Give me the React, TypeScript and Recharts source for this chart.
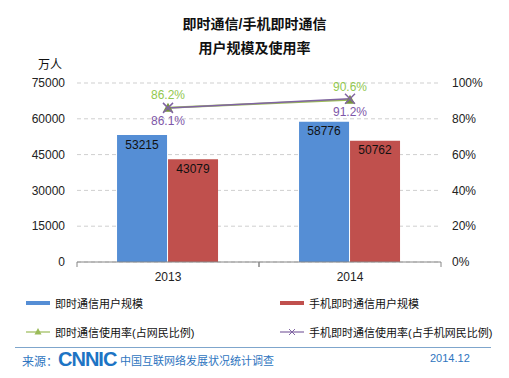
import React from "react";
import { ComposedChart, Bar, Line, XAxis, YAxis, CartesianGrid, LabelList } from "recharts";

const years = ["2013", "2014"];
const imUsers = [53215, 58776];
const mobileImUsers = [43079, 50762];
const imRate = [0.862, 0.906];
const mobileImRate = [0.861, 0.912];
const leftTicks = [0, 15000, 30000, 45000, 60000, 75000];
const rightTicks = [0, 0.2, 0.4, 0.6, 0.8, 1];

const data = years.map((y, i) => ({
  year: y,
  im: imUsers[i],
  mim: mobileImUsers[i],
  imRate: imRate[i],
  mimRate: mobileImRate[i],
}));

const BLUE = "#558ED5";
const RED = "#C0504D";
const GREEN = "#9BBB59";
const PURPLE = "#8064A2";
const FONT = "'Liberation Sans', Arial, 'Noto Sans CJK SC', sans-serif";

const pct = (v: number) => `${(v * 100).toFixed(1)}%`;

const Triangle = (p: any) => {
  const { cx, cy } = p;
  if (cx == null || cy == null) return null;
  return <path d={`M${cx},${cy - 5} L${cx + 5},${cy + 4} L${cx - 5},${cy + 4} Z`} fill="#77933C" />;
};

const Cross = (p: any) => {
  const { cx, cy } = p;
  if (cx == null || cy == null) return null;
  return (
    <g stroke={PURPLE} strokeWidth={1.5}>
      <line x1={cx - 5} y1={cy - 5} x2={cx + 5} y2={cy + 5} />
      <line x1={cx - 5} y1={cy + 5} x2={cx + 5} y2={cy - 5} />
    </g>
  );
};

const YearTick = (p: any) => {
  const { x, y, payload } = p;
  return (
    <g>
      <line x1={x - 91} y1={y - 10} x2={x - 91} y2={y - 5} stroke="#868686" />
      <line x1={x + 91} y1={y - 10} x2={x + 91} y2={y - 5} stroke="#868686" />
      <text x={x} y={y} dy="0.71em" textAnchor="middle" fontSize={12} fill="#222" fontFamily={FONT}>
        {payload.value}
      </text>
    </g>
  );
};

const LegendItem = ({ left, top, kind, color, label }: any) => (
  <div style={{ position: "absolute", left, top, height: 16, display: "flex", alignItems: "center" }}>
    <svg width={26} height={16} style={{ marginRight: 3 }}>
      {kind === "bar" && <rect x={0} y={6} width={24} height={4} fill={color} />}
      {kind !== "bar" && <line x1={0} y1={8} x2={24} y2={8} stroke={color} strokeWidth={1.2} />}
      {kind === "tri" && <path d="M12,4 L15.5,10.5 L8.5,10.5 Z" fill={color} />}
      {kind === "x" && (
        <g stroke={color} strokeWidth={1}>
          <line x1={9} y1={5} x2={15} y2={11} />
          <line x1={9} y1={11} x2={15} y2={5} />
        </g>
      )}
    </svg>
    <span style={{ fontSize: 11, color: "#111", whiteSpace: "nowrap" }}>{label}</span>
  </div>
);

export default function App() {
  return (
    <div style={{ position: "absolute", left: 0, top: 0, width: 509, height: 378, background: "#fff", fontFamily: FONT, overflow: "hidden" }}>
      <div style={{ position: "absolute", left: 0, width: 509, top: 16, lineHeight: "16px", textAlign: "center", fontSize: 14, fontWeight: "bold", color: "#111" }}>
        即时通信/手机即时通信
      </div>
      <div style={{ position: "absolute", left: 0, width: 509, top: 40, lineHeight: "16px", textAlign: "center", fontSize: 14, fontWeight: "bold", color: "#111" }}>
        用户规模及使用率
      </div>
      <div style={{ position: "absolute", left: 38, top: 58, lineHeight: "14px", fontSize: 12, color: "#111" }}>万人</div>

      <div style={{ position: "absolute", left: 0, top: 0 }}>
        <ComposedChart width={509} height={292} data={data} margin={{ top: 83, right: 0, bottom: 0, left: 0 }} barCategoryGap="22%" barGap={1}>
          <CartesianGrid yAxisId="left" vertical={false} strokeDasharray="4 3" stroke="#cfcfcf" />
          <XAxis dataKey="year" axisLine={{ stroke: "#868686" }} tickLine={false} tickMargin={4} height={30} tick={<YearTick />} />
          <YAxis yAxisId="left" domain={[0, 75000]} ticks={leftTicks} width={77} axisLine={false} tickLine={false} tickMargin={6}
            tick={{ fontSize: 12, fill: "#222", fontFamily: FONT }} interval={0} />
          <YAxis yAxisId="right" orientation="right" domain={[0, 1]} ticks={rightTicks} width={68} axisLine={false} tickLine={false} tickMargin={5}
            tickFormatter={(v: number) => `${Math.round(v * 100)}%`} tick={{ fontSize: 12, fill: "#222", fontFamily: FONT }} interval={0} />
          <Bar yAxisId="left" dataKey="im" fill={BLUE} isAnimationActive={false}>
            <LabelList dataKey="im" position="insideTop" offset={5} fill="#111" fontSize={12} />
          </Bar>
          <Bar yAxisId="left" dataKey="mim" fill={RED} isAnimationActive={false}>
            <LabelList dataKey="mim" position="insideTop" offset={5} fill="#111" fontSize={12} />
          </Bar>
          <Line yAxisId="right" dataKey="imRate" stroke={GREEN} strokeWidth={2} dot={<Triangle />} activeDot={false} isAnimationActive={false}>
            <LabelList dataKey="imRate" position="top" offset={9} fill="#92C84F" fontSize={12} formatter={(v: any) => pct(Number(v))} />
          </Line>
          <Line yAxisId="right" dataKey="mimRate" stroke={PURPLE} strokeWidth={1.5} dot={<Cross />} activeDot={false} isAnimationActive={false}>
            <LabelList dataKey="mimRate" position="bottom" offset={9} fill="#7E57A8" fontSize={12} formatter={(v: any) => pct(Number(v))} />
          </Line>
        </ComposedChart>
      </div>

      <LegendItem left={26} top={295} kind="bar" color={BLUE} label="即时通信用户规模" />
      <LegendItem left={280} top={295} kind="bar" color={RED} label="手机即时通信用户规模" />
      <LegendItem left={26} top={324} kind="tri" color={GREEN} label="即时通信使用率(占网民比例)" />
      <LegendItem left={280} top={324} kind="x" color={PURPLE} label="手机即时通信使用率(占手机网民比例)" />

      <div style={{ position: "absolute", left: 15, top: 347, width: 476, height: 1, background: "#7FA6CC" }} />
      <div style={{ position: "absolute", left: 22, top: 352, fontSize: 12, color: "#2E75C0" }}>来源：</div>
      <div style={{ position: "absolute", left: 58, top: 348, fontSize: 20, fontWeight: "bold", color: "#1D74C4", letterSpacing: -1, fontFamily: "'Liberation Sans', Arial" }}>CNNIC</div>
      <div style={{ position: "absolute", left: 120, top: 352, fontSize: 11, color: "#2E75C0" }}>中国互联网络发展状况统计调查</div>
      <div style={{ position: "absolute", left: 430, top: 352, fontSize: 11, color: "#2E75C0" }}>2014.12</div>
    </div>
  );
}
